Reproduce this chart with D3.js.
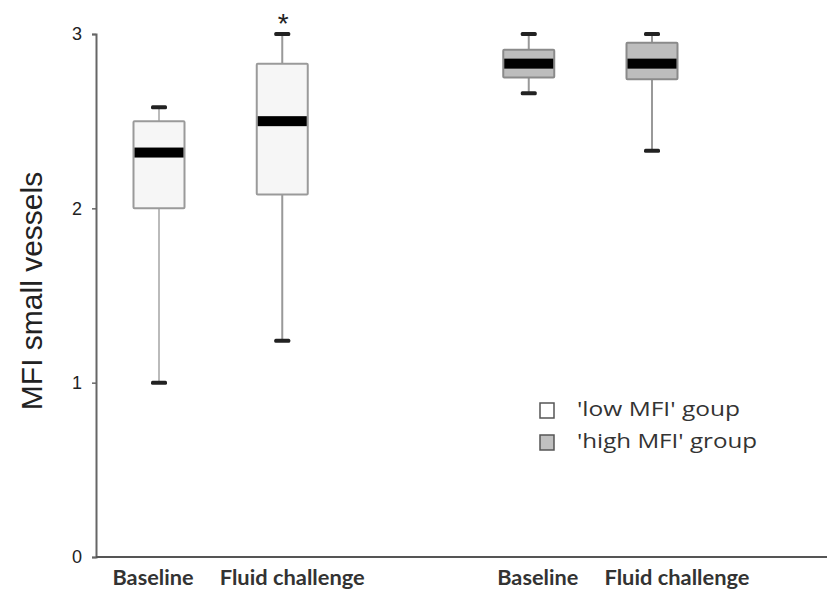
<!DOCTYPE html>
<html>
<head>
<meta charset="utf-8">
<script src="https://cdn.jsdelivr.net/npm/d3@7"></script>
<style>
  body { margin: 0; background: #fff; }
  svg { display: block; }
</style>
</head>
<body>
<svg id="chart" width="827" height="592"></svg>
<script>
// ---- data ----
const categories = ["Baseline", "Fluid challenge", "Baseline", "Fluid challenge"];
const groups = ["low", "low", "high", "high"];
const slots = [0, 1, 3, 4];
const whiskerLow = [1.0, 1.24, 2.66, 2.33];
const q1 = [2.0, 2.08, 2.75, 2.74];
const median = [2.32, 2.5, 2.83, 2.83];
const q3 = [2.5, 2.83, 2.91, 2.95];
const whiskerHigh = [2.58, 3.0, 3.0, 3.0];
const yTicks = [0, 1, 2, 3];
const legendLabels = ["'low MFI' goup", "'high MFI' group"];
const legendGroups = ["low", "high"];
const significant = [false, true, false, false];

// ---- layout ----
const svg = d3.select("#chart");
const y = d3.scaleLinear().domain([0, 3]).range([557, 34]);
const x = d3.scaleLinear().domain([0, 4]).range([159, 652]);
const fill = d3.scaleOrdinal().domain(["low", "high"]).range(["#f6f6f6", "#bdbdbd"]);
const stroke = d3.scaleOrdinal().domain(["low", "high"]).range(["#9a9a9a", "#8a8a8a"]);
const boxW = 51, capW = 16;
const labelDx = [-6, 10, 9, 25];
const labelLen = { "Baseline": 81, "Fluid challenge": 145 };
const legendLen = [163, 180];

const data = categories.map((c, i) => ({
  c, g: groups[i], s: slots[i], lo: whiskerLow[i], q1: q1[i], med: median[i],
  q3: q3[i], hi: whiskerHigh[i], sig: significant[i], dx: labelDx[i]
}));

// axes
const yAxis = d3.axisLeft(y).tickValues(yTicks).tickSize(4).tickFormat(d3.format("d"));
const gy = svg.append("g").attr("transform", "translate(96,0)").call(yAxis);
gy.select(".domain").attr("stroke", "#666").attr("stroke-width", 2);
gy.selectAll(".tick line").attr("stroke", "#666").attr("stroke-width", 1.5);
gy.selectAll(".tick text").attr("font-family", "Liberation Sans, Arial, sans-serif")
  .attr("font-size", 18).attr("fill", "#222").attr("x", -14);

svg.append("line").attr("x1", 96).attr("x2", 827).attr("y1", y(0)).attr("y2", y(0))
  .attr("stroke", "#555").attr("stroke-width", 2);

// y label
svg.append("text")
  .attr("transform", `translate(42,291) rotate(-90)`)
  .attr("text-anchor", "middle")
  .attr("font-family", "Liberation Sans, Arial, sans-serif")
  .attr("font-size", 30).attr("fill", "#222")
  .text("MFI small vessels");

// boxes
const bx = svg.append("g").selectAll("g").data(data).join("g");
// whisker
bx.append("line")
  .attr("x1", d => x(d.s)).attr("x2", d => x(d.s))
  .attr("y1", d => y(d.hi)).attr("y2", d => y(d.lo))
  .attr("stroke", (d, i) => i === 0 ? "#bbbbbb" : "#999").attr("stroke-width", 2);
// caps
bx.selectAll("rect.cap").data(d => [d.lo, d.hi].map(v => ({ v, s: d.s }))).join("rect")
  .attr("class", "cap")
  .attr("x", d => x(d.s) - capW / 2).attr("width", capW)
  .attr("y", d => y(d.v) - 2).attr("height", 4)
  .attr("rx", 1.5).attr("fill", "#222");
// box
bx.append("rect")
  .attr("x", d => x(d.s) - boxW / 2).attr("width", boxW)
  .attr("y", d => y(d.q3)).attr("height", d => y(d.q1) - y(d.q3))
  .attr("fill", d => fill(d.g)).attr("stroke", d => stroke(d.g)).attr("stroke-width", 2)
  .attr("rx", 1);
// median
bx.append("rect")
  .attr("x", d => x(d.s) - boxW / 2 + 1).attr("width", boxW - 2)
  .attr("y", d => y(d.med) - 5).attr("height", 10)
  .attr("fill", "#000");
// significance
bx.filter(d => d.sig).append("text")
  .attr("x", d => x(d.s) + 1).attr("y", 33)
  .attr("text-anchor", "middle")
  .attr("font-family", "Liberation Sans, Arial, sans-serif")
  .attr("font-size", 28).attr("fill", "#222").text("*");

// x labels
svg.append("g").selectAll("text").data(data).join("text")
  .attr("x", d => x(d.s) + d.dx).attr("y", 585)
  .attr("text-anchor", "middle")
  .attr("font-family", "Lato, sans-serif").attr("font-weight", "bold")
  .attr("font-size", 20).attr("fill", "#333")
  .attr("textLength", d => labelLen[d.c]).attr("lengthAdjust", "spacingAndGlyphs")
  .text(d => d.c);

// legend
const lg = svg.append("g").selectAll("g").data(legendLabels).join("g")
  .attr("transform", (d, i) => `translate(540,${403 + i * 32})`);
lg.append("rect").attr("width", 14).attr("height", 15)
  .attr("fill", (d, i) => legendGroups[i] === "low" ? "#fff" : "#c0c0c0")
  .attr("stroke", "#555").attr("stroke-width", 1.5);
lg.append("text").attr("x", 37).attr("y", 13)
  .attr("font-family", "Open Sans, sans-serif").attr("font-size", 20).attr("fill", "#333")
  .attr("textLength", (d, i) => legendLen[i]).attr("lengthAdjust", "spacingAndGlyphs")
  .text(d => d);
</script>
</body>
</html>
